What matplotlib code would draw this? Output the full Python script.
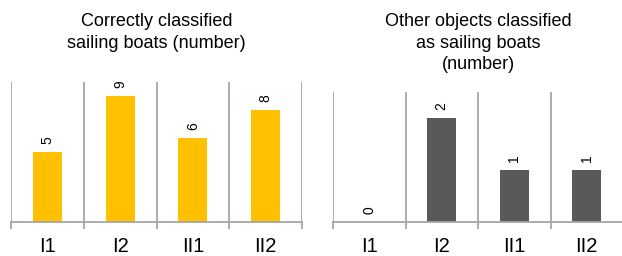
import matplotlib
matplotlib.use('Agg')
import matplotlib.pyplot as plt

plt.rcParams['font.family'] = ['Liberation Sans', 'DejaVu Sans']

categories = ['I1', 'I2', 'II1', 'II2']
correct = [5, 9, 6, 8]
other = [0, 2, 1, 1]

W, H = 622, 256
fig = plt.figure(figsize=(W / 100, H / 100), dpi=100)

grid_col = '#a6a6a6'


def panel(rect, values, color, ymax, title, title_y):
    ax = fig.add_axes(rect)
    x = range(len(categories))
    bars = ax.bar(x, values, width=0.4, color=color)
    for b, v in zip(bars, values):
        ax.annotate(str(v), (b.get_x() + b.get_width() / 2, b.get_height()),
                    xytext=(0, 6), textcoords='offset points',
                    ha='center', va='bottom', rotation=90, fontsize=10)
    ax.set_xlim(-0.5, len(categories) - 0.5)
    ax.set_ylim(0, ymax)
    ax.set_xticks(list(x))
    ax.set_xticklabels(categories, fontsize=14.5)
    ax.set_xticks([i - 0.5 for i in range(len(categories) + 1)], minor=True)
    ax.tick_params(axis='x', which='major', length=0, pad=10.5)
    ax.tick_params(axis='x', which='minor', length=5, width=1.3, color=grid_col)
    ax.set_yticks([])
    ax.grid(axis='x', which='minor', color=grid_col, linewidth=1.3)
    ax.set_axisbelow(True)
    for s in ['left', 'right', 'top']:
        ax.spines[s].set_visible(False)
    ax.spines['bottom'].set_color(grid_col)
    ax.spines['bottom'].set_linewidth(1.3)
    cx = rect[0] + rect[2] / 2
    fig.text(cx, title_y, title, ha='center', va='top', fontsize=13,
             linespacing=1.35)
    return ax


panel([11 / W, 34 / H, 291 / W, 140 / H], correct, '#ffc000', 10,
      'Correctly classified\nsailing boats (number)', 1 - 13 / H)
panel([333 / W, 34 / H, 290 / W, 130 / H], other, '#595959', 2.5,
      'Other objects classified\nas sailing boats\n(number)', 1 - 13 / H)

fig.savefig('out.png', dpi=100)
